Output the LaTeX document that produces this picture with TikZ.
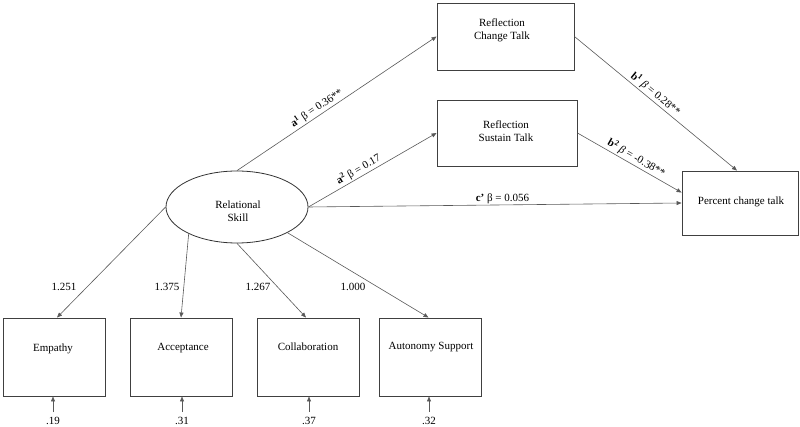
\documentclass[tikz,border=0pt]{standalone}
\usepackage{fontspec}
\setmainfont{Liberation Serif}
\usetikzlibrary{arrows.meta,calc,shapes.geometric}
\begin{document}
\begin{tikzpicture}[x=1pt,y=-1pt,
  font=\fontsize{11}{12.5}\selectfont,
  box/.style={draw=black!75, line width=0.9pt, fill=white, inner sep=0pt},
  conn/.style={draw=black!65, line width=0.6pt, -{Triangle[length=5pt,width=4pt]}},
  lab/.style={inner sep=1.5pt, text=black},
  txt/.style={align=center, inner sep=0pt}]
\useasboundingbox (0,0) rectangle (800,427);
% boxes
\node[box, minimum width=137pt, minimum height=67pt] (rct) at (505.5,36.5) {};
\node[box, minimum width=140pt, minimum height=66pt] (rst) at (507,133) {};
\node[box, minimum width=116pt, minimum height=64pt] (pct) at (740,203) {};
\node[box, minimum width=102pt, minimum height=78pt] (emp) at (54,357) {};
\node[box, minimum width=102pt, minimum height=78pt] (acc) at (181,357) {};
\node[box, minimum width=102pt, minimum height=78pt] (col) at (308,357) {};
\node[box, minimum width=102pt, minimum height=78pt] (aut) at (430.5,357) {};
\node[draw=black!80, line width=0.8pt, ellipse, minimum width=142pt, minimum height=72pt, inner sep=0pt] (rs) at (237,207) {};
% texts
\node[txt] (trct) at (502,30.5) {Reflection\\Change Talk};
\node[txt] (trst) at (506,131) {Reflection\\Sustain Talk};
\node[txt] (tpct) at (741,202) {Percent change talk};
\node[txt] (trs) at (238,211) {Relational\\Skill};
\node[txt] (temp) at (53,349) {Empathy};
\node[txt] (tacc) at (183,348) {Acceptance};
\node[txt] (tcol) at (308,347) {Collaboration};
\node[txt] (taut) at (431,347) {Autonomy Support};
% structural paths
\draw[conn] (rs.north) -- (rct.west)
  node[lab, pos=0.42, sloped, above] {\textbf{a\textsuperscript{1}} β = 0.36**};
\draw[conn] (rs.east) -- (rst.west)
  node[lab, pos=0.42, sloped, above] {\textbf{a\textsuperscript{2}} β = 0.17};
\draw[conn] (rs.east) -- (pct.west)
  node[lab, pos=0.52, above, inner sep=1pt] {\textbf{c’} β = 0.056};
\draw[conn] (rct.east) -- ([xshift=-3pt]pct.north)
  node[lab, pos=0.47, sloped, above] {\textbf{b\textsuperscript{1}} \textit{β} = 0.28**};
\draw[conn] (rst.east) -- ([yshift=-22pt]pct.north west)
  node[lab, pos=0.53, sloped, above] {\textbf{b\textsuperscript{2}} \textit{β} = -0.38**};
% loadings
\draw[conn] (rs.west) -- ([xshift=3pt]emp.north);
\draw[conn] (rs.209) -- (acc.north);
\draw[conn] (rs.south) -- ([xshift=-2pt]col.north);
\draw[conn] (rs.-27) -- ([xshift=-2pt]aut.north);
\node[lab] (l1) at (64,287) {1.251};
\node[lab] (l2) at (167,287) {1.375};
\node[lab] (l3) at (258,287) {1.267};
\node[lab] (l4) at (353,287) {1.000};
% errors
\node[lab, inner sep=0pt] (e1) at (53,421) {.19};
\node[lab, inner sep=0pt] (e2) at (182,421) {.31};
\node[lab, inner sep=0pt] (e3) at (309,421) {.37};
\node[lab, inner sep=0pt] (e4) at (429,421) {.32};
\coordinate (c1) at (53,412);
\coordinate (c2) at (182,412);
\coordinate (c3) at (309,412);
\coordinate (c4) at (429,412);
\draw[conn] (c1) -- (c1 |- emp.south);
\draw[conn] (c2) -- (c2 |- acc.south);
\draw[conn] (c3) -- (c3 |- col.south);
\draw[conn] (c4) -- (c4 |- aut.south);
\end{tikzpicture}
\end{document}
